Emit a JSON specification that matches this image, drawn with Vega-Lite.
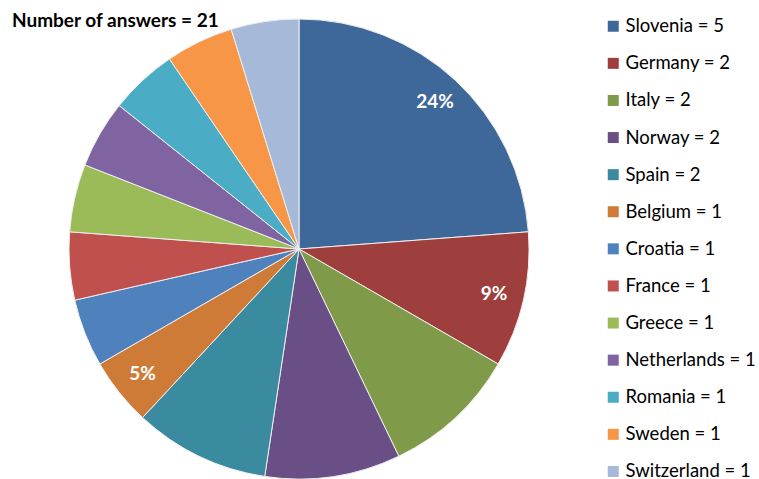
{
  "$schema": "https://vega.github.io/schema/vega-lite/v6.json",
  "width": 598,
  "height": 450,
  "autosize": {"type": "none"},
  "padding": {"left": 0, "top": 24, "right": 161, "bottom": 5},
  "background": "white",
  "title": {
    "text": "Number of answers = 21",
    "anchor": "start",
    "frame": "group",
    "orient": "top",
    "offset": -29,
    "baseline": "alphabetic",
    "dx": 12,
    "font": "Lato",
    "fontSize": 19,
    "fontWeight": "bold",
    "color": "#000000"
  },
  "data": {
    "values": [
      {"order": 1, "country": "Slovenia = 5", "count": 5, "pct": "24%"},
      {"order": 2, "country": "Germany = 2", "count": 2, "pct": "9%"},
      {"order": 3, "country": "Italy = 2", "count": 2, "pct": ""},
      {"order": 4, "country": "Norway = 2", "count": 2, "pct": ""},
      {"order": 5, "country": "Spain = 2", "count": 2, "pct": ""},
      {"order": 6, "country": "Belgium = 1", "count": 1, "pct": "5%"},
      {"order": 7, "country": "Croatia = 1", "count": 1, "pct": ""},
      {"order": 8, "country": "France = 1", "count": 1, "pct": ""},
      {"order": 9, "country": "Greece = 1", "count": 1, "pct": ""},
      {"order": 10, "country": "Netherlands = 1", "count": 1, "pct": ""},
      {"order": 11, "country": "Romania = 1", "count": 1, "pct": ""},
      {"order": 12, "country": "Sweden = 1", "count": 1, "pct": ""},
      {"order": 13, "country": "Switzerland = 1", "count": 1, "pct": ""}
    ]
  },
  "encoding": {
    "theta": {"field": "count", "type": "quantitative", "stack": true},
    "order": {"field": "order", "type": "quantitative"},
    "color": {
      "field": "country",
      "type": "nominal",
      "scale": {
        "domain": ["Slovenia = 5", "Germany = 2", "Italy = 2", "Norway = 2", "Spain = 2", "Belgium = 1", "Croatia = 1", "France = 1", "Greece = 1", "Netherlands = 1", "Romania = 1", "Sweden = 1", "Switzerland = 1"],
        "range": ["#3F689A", "#9E3F3D", "#7F9A48", "#6A4F87", "#3B8BA0", "#CF7B38", "#4F81BD", "#C0504D", "#9BBB59", "#8064A2", "#4BACC6", "#F79646", "#A7B9D9"]
      },
      "legend": {
        "title": null,
        "orient": "none",
        "legendX": 604,
        "legendY": -7,
        "symbolType": "square",
        "symbolSize": 121,
        "symbolStrokeWidth": 0,
        "labelFont": "Lato",
        "labelFontSize": 18.5,
        "labelColor": "#000000",
        "rowPadding": 18.1,
        "labelOffset": 3,
        "labelLimit": 200
      }
    }
  },
  "layer": [
    {
      "mark": {"type": "arc", "outerRadius": 230, "stroke": "#EEEEEE", "strokeWidth": 1}
    },
    {
      "mark": {"type": "text", "radius": 200, "font": "Lato", "fontSize": 19, "fontWeight": "bold", "color": "white"},
      "encoding": {
        "text": {"field": "pct", "type": "nominal"},
        "color": {"value": "white"}
      }
    }
  ]
}
